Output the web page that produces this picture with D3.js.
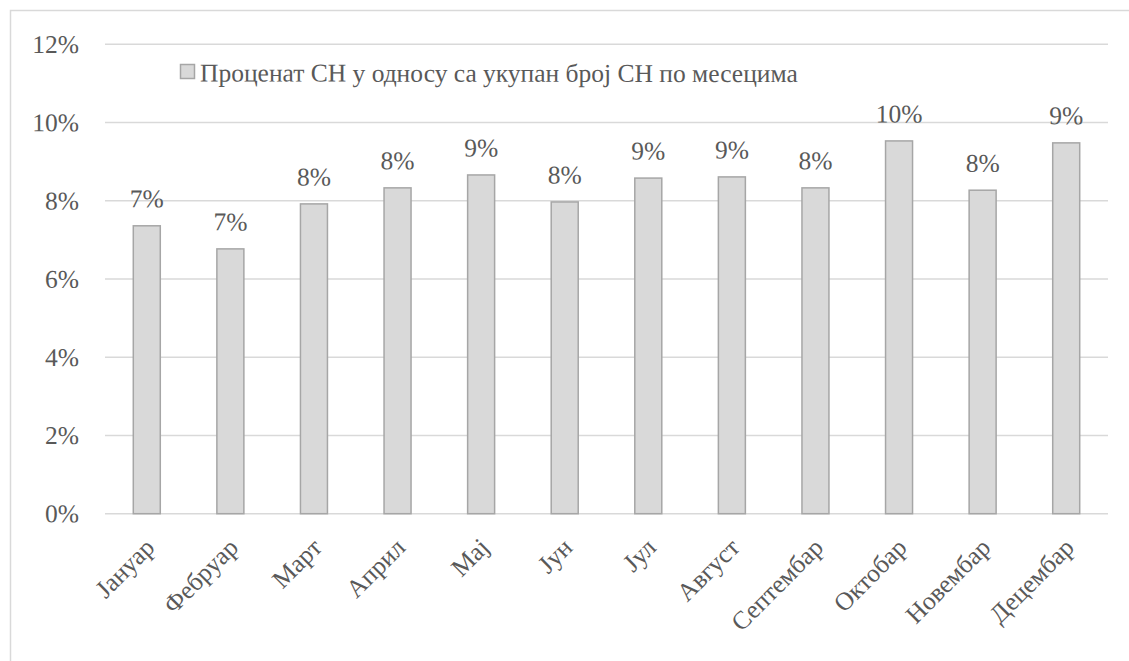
<!DOCTYPE html>
<html>
<head>
<meta charset="utf-8">
<script src="https://cdn.jsdelivr.net/npm/d3@7"></script>
</head>
<body style="margin:0">
<svg id="chart" width="1129" height="661" style="display:block"></svg>
<script>
const categories = ["Јануар", "Фебруар", "Март", "Април", "Мај", "Јун", "Јул", "Август", "Септембар", "Октобар", "Новембар", "Децембар"];
const values = [0.0736, 0.0677, 0.0792, 0.0833, 0.0866, 0.0797, 0.0858, 0.0861, 0.0833, 0.0953, 0.0827, 0.0948];
const yTicks = [0, 0.02, 0.04, 0.06, 0.08, 0.10, 0.12];
const seriesName = "Проценат СН у односу са укупан број СН по месецима";

const svg = d3.select("#chart");
const W = 1129, H = 661;
const textColor = "#595959";
const baseSize = 30;      // requested font size
const k = 0.85;           // visual scale -> ~25.5px
const tilt = 0.05;        // imperceptible rotation

function serif(sel) {
  return sel.style("font-family", '"Liberation Serif", "Times New Roman", serif')
    .attr("font-size", baseSize).attr("fill", textColor);
}

svg.append("rect")
  .attr("x", 10.5).attr("y", 10.5)
  .attr("width", W + 20).attr("height", H + 20)
  .attr("fill", "#fff").attr("stroke", "#d9d9d9").attr("stroke-width", 1.5);

const plot = { left: 105, right: 1108, top: 44.3, bottom: 513.7 };

const x = d3.scaleBand().domain(categories).range([plot.left, plot.right]).paddingInner(0.677).paddingOuter(0.3385);
const y = d3.scaleLinear().domain([0, 0.12]).range([plot.bottom, plot.top]);
const fmt = d3.format(".0%");

// gridlines
svg.append("g").selectAll("line").data(yTicks).join("line")
  .attr("x1", plot.left).attr("x2", plot.right)
  .attr("y1", d => y(d)).attr("y2", d => y(d))
  .attr("stroke", "#d9d9d9").attr("stroke-width", 1.5);

// y tick labels
svg.append("g").selectAll("text").data(yTicks).join("text")
  .call(serif)
  .attr("text-anchor", "end")
  .attr("dy", "0.34em")
  .attr("transform", d => `translate(${plot.left - 26},${y(d)}) rotate(${tilt}) scale(${k})`)
  .text(d => fmt(d));

// bars
svg.append("g").selectAll("rect").data(values).join("rect")
  .attr("x", (d, i) => x(categories[i]))
  .attr("width", x.bandwidth())
  .attr("y", d => y(d))
  .attr("height", d => y(0) - y(d))
  .attr("fill", "#d9d9d9").attr("stroke", "#a6a6a6").attr("stroke-width", 1.5);

// data labels
svg.append("g").selectAll("text").data(values).join("text")
  .call(serif)
  .attr("text-anchor", "middle")
  .attr("transform", (d, i) => `translate(${x(categories[i]) + x.bandwidth() / 2},${y(d) - 18.5}) rotate(${tilt}) scale(${k})`)
  .text(d => fmt(d));

// category labels, rotated -45°
svg.append("g").selectAll("text").data(categories).join("text")
  .call(serif)
  .attr("text-anchor", "end")
  .attr("dy", "0.35em")
  .attr("transform", d => `translate(${x(d) + x.bandwidth() / 2 + 3},${plot.bottom + 29}) rotate(-45) scale(${k})`)
  .text(d => d);

// legend
const lg = svg.append("g").attr("transform", "translate(180.5,64.5)");
lg.append("rect").attr("width", 14).attr("height", 14)
  .attr("fill", "#d9d9d9").attr("stroke", "#a6a6a6").attr("stroke-width", 1.5);
lg.append("text").call(serif)
  .attr("transform", `translate(19.5,17) rotate(${tilt}) scale(${k})`)
  .text(seriesName);
</script>
</body>
</html>
